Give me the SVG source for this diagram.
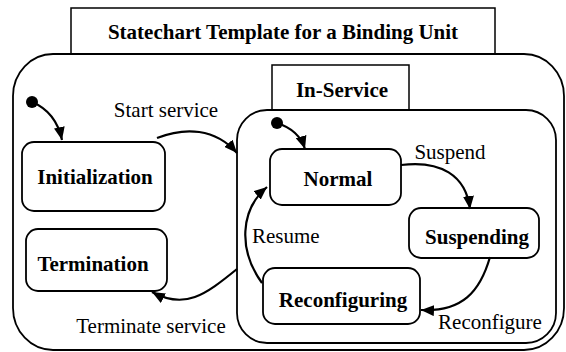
<svg xmlns="http://www.w3.org/2000/svg" width="566" height="352" viewBox="0 0 566 352">
<defs>
<marker id="arr" markerUnits="userSpaceOnUse" markerWidth="13" markerHeight="11" refX="13" refY="5.5" orient="auto">
<path d="M0,0 L13,5.5 L0,11 z" fill="#000"/>
</marker>
<style>
.box{fill:#fff;stroke:#000;stroke-width:1.8}
.hdr{fill:#fff;stroke:#000;stroke-width:1.5}
.b{font-family:"Liberation Serif","Times New Roman",serif;font-weight:bold;font-size:21px;fill:#000;text-anchor:middle}
.l{font-family:"Liberation Serif","Times New Roman",serif;font-size:21px;fill:#000}
.c{fill:none;stroke:#000;stroke-width:2.2;marker-end:url(#arr)}
</style>
</defs>
<rect width="566" height="352" fill="#fff"/>
<g id="title">
<rect class="hdr" x="71" y="8" width="424" height="46"/>
<text class="b" x="283" y="39">Statechart Template for a Binding Unit</text>
</g>
<g id="binding-unit">
<rect class="box" x="13" y="54" width="551" height="296" rx="40" ry="42"/>
</g>
<g id="in-service-label">
<rect class="hdr" x="272" y="65" width="137" height="45"/>
<text class="b" x="342" y="97">In-Service</text>
</g>
<g id="in-service">
<rect class="box" x="237" y="110" width="319" height="233" rx="30" ry="30"/>
</g>
<g id="initialization">
<rect class="box" x="22" y="142" width="143" height="69" rx="12"/>
<text class="b" x="95" y="184">Initialization</text>
</g>
<g id="termination">
<rect class="box" x="26" y="229" width="141" height="62" rx="12"/>
<text class="b" x="93" y="271">Termination</text>
</g>
<g id="normal">
<rect class="box" x="270" y="149" width="131" height="56" rx="12"/>
<text class="b" x="338" y="186">Normal</text>
</g>
<g id="suspending">
<rect class="box" x="409" y="208" width="130" height="50" rx="12"/>
<text class="b" x="477" y="244">Suspending</text>
</g>
<g id="reconfiguring">
<rect class="box" x="263" y="268" width="157" height="56" rx="12"/>
<text class="b" x="343" y="307">Reconfiguring</text>
</g>
<g id="initial-outer">
<circle cx="32" cy="102" r="6" fill="#000"/>
</g>
<g id="initial-inner">
<circle cx="277" cy="123" r="6" fill="#000"/>
</g>
<g id="connectors">
<path class="c" d="M32,102 Q56,112 62,140"/>
<path class="c" d="M277,123 Q299,130 305,149"/>
<path class="c" d="M157,138 C185,127 215,128 237,153"/>
<path class="c" d="M401,165 C440,160 466,175 470,209"/>
<path class="c" d="M490,257 C480,292 462,312 421,310"/>
<path class="c" d="M262,283 C238,250 240,210 267,187"/>
<path class="c" d="M237,269 C205,295 185,310 152,292"/>
</g>
<g id="labels">
<text class="l" x="166" y="117" text-anchor="middle">Start service</text>
<text class="l" x="450" y="159" text-anchor="middle">Suspend</text>
<text class="l" x="252" y="243">Resume</text>
<text class="l" x="490" y="329" text-anchor="middle">Reconfigure</text>
<text class="l" x="151" y="333" text-anchor="middle">Terminate service</text>
</g>
</svg>
